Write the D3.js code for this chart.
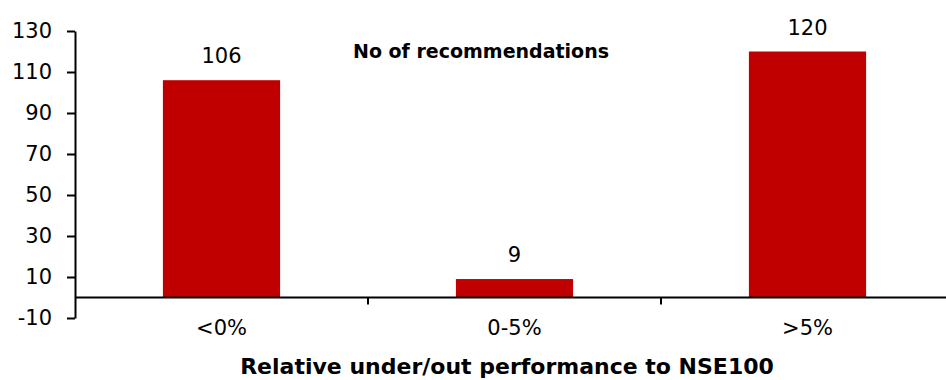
<!DOCTYPE html>
<html>
<head>
<meta charset="utf-8">
<script src="https://cdn.jsdelivr.net/npm/d3@7"></script>
<style>
  html, body { margin: 0; padding: 0; background: #fff; }
  svg { display: block; }
  text { font-family: "DejaVu Sans", sans-serif; fill: #000; }
</style>
</head>
<body>
<svg id="chart" width="946" height="380"></svg>
<script>
// Number of recommendations by relative under/out performance bucket
const categories = ["<0%", "0-5%", ">5%"];
const counts = [106, 9, 120];
const yTicks = [-10, 10, 30, 50, 70, 90, 110, 130];
const chartTitle = "No of recommendations";
const xAxisTitle = "Relative under/out performance to NSE100";

const svg = d3.select("#chart");
const barColor = "#C00000";
const fontFamily = "'DejaVu Sans', sans-serif";

const x = d3.scaleBand()
  .domain(categories)
  .range([75, 954])
  .paddingInner(0.6)
  .paddingOuter(0.3);

const y = d3.scaleLinear()
  .domain([-10, 130])
  .range([318, 31]);

const rows = categories.map((c, i) => ({ c, v: counts[i] }));

// Bars
svg.append("g").selectAll("rect")
  .data(rows)
  .join("rect")
  .attr("x", d => x(d.c))
  .attr("width", x.bandwidth())
  .attr("y", d => y(Math.max(0, d.v)))
  .attr("height", d => Math.abs(y(d.v) - y(0)))
  .attr("fill", barColor);

// Value labels
svg.append("g").selectAll("text")
  .data(rows)
  .join("text")
  .attr("x", d => x(d.c) + x.bandwidth() / 2)
  .attr("y", d => y(d.v) - 17)
  .attr("text-anchor", "middle")
  .style("font-size", "21px")
  .text(d => d.v);

// Y axis
const yAxis = svg.append("g")
  .attr("transform", "translate(75,0)")
  .call(d3.axisLeft(y)
    .tickValues(yTicks)
    .tickFormat(d => String(d))
    .tickSize(8)
    .tickSizeOuter(0)
    .tickPadding(15));
yAxis.select(".domain").attr("stroke", "#000").attr("stroke-width", 2);
yAxis.selectAll(".tick line").attr("stroke", "#000").attr("stroke-width", 2);
yAxis.selectAll(".tick text")
  .style("font-size", "21px")
  .style("font-family", fontFamily)
  .attr("fill", "#000");

// Category axis along the zero line
const zeroY = y(0);
svg.append("line")
  .attr("x1", 75).attr("x2", 946)
  .attr("y1", zeroY).attr("y2", zeroY)
  .attr("stroke", "#000").attr("stroke-width", 2);

const gap = x.step() - x.bandwidth();
const boundaries = categories.slice(1).map(c => x(c) - gap / 2);
svg.append("g").selectAll("line")
  .data(boundaries)
  .join("line")
  .attr("x1", d => d).attr("x2", d => d)
  .attr("y1", zeroY).attr("y2", zeroY + 7)
  .attr("stroke", "#000").attr("stroke-width", 2);

svg.append("g").selectAll("text")
  .data(categories)
  .join("text")
  .attr("x", d => x(d) + x.bandwidth() / 2)
  .attr("y", 335)
  .attr("text-anchor", "middle")
  .style("font-size", "21px")
  .text(d => d);

// Chart title
svg.append("text")
  .attr("x", 481)
  .attr("y", 58)
  .attr("text-anchor", "middle")
  .style("font-size", "19px")
  .style("font-weight", "bold")
  .text(chartTitle);

// X axis title
svg.append("text")
  .attr("x", 507)
  .attr("y", 374)
  .attr("text-anchor", "middle")
  .style("font-size", "22px")
  .style("font-weight", "bold")
  .text(xAxisTitle);
</script>
</body>
</html>
